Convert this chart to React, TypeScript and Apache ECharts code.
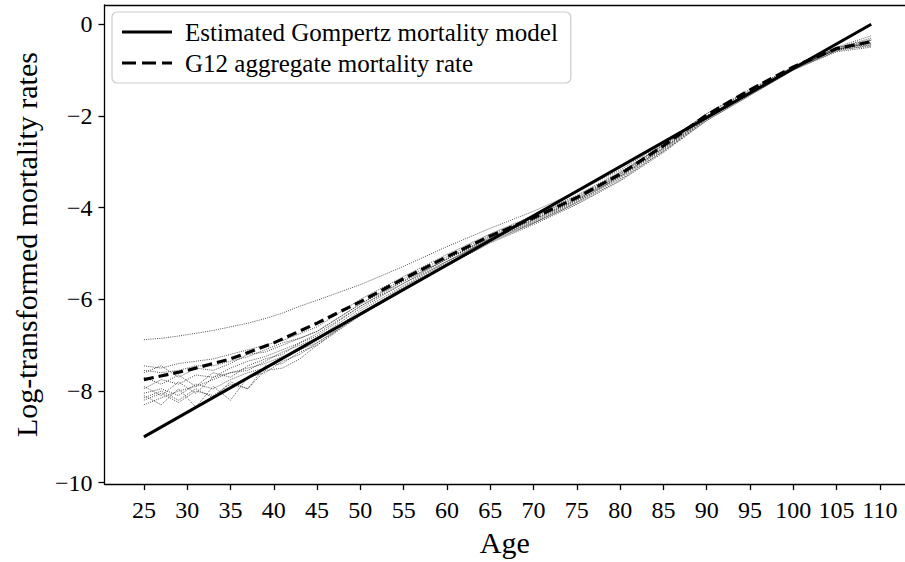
import React, { useEffect, useRef } from "react";
import * as echarts from "echarts";

const countryAges = [25, 27, 29, 31, 33, 35, 37, 39, 41, 43, 45, 50, 55, 60, 65, 70, 75, 80, 85, 90, 95, 100, 105, 109];
const country01 = [-6.88, -6.85, -6.8, -6.74, -6.68, -6.6, -6.52, -6.42, -6.3, -6.15, -6.02, -5.68, -5.28, -4.85, -4.45, -4.08, -3.65, -3.18, -2.6, -1.95, -1.42, -0.93, -0.55, -0.4];
const country02 = [-7.45, -7.5, -7.4, -7.35, -7.3, -7.2, -7.1, -7.0, -6.9, -6.75, -6.6, -6.0, -5.5, -5.02, -4.57, -4.17, -3.73, -3.22, -2.64, -2.0, -1.5, -0.98, -0.55, -0.35];
const country03 = [-7.55, -7.6, -7.55, -7.45, -7.45, -7.35, -7.25, -7.1, -6.95, -6.85, -6.7, -6.1, -5.6, -5.12, -4.67, -4.27, -3.83, -3.32, -2.72, -2.05, -1.5, -0.95, -0.52, -0.3];
const country04 = [-7.7, -7.85, -7.65, -7.9, -7.6, -7.7, -7.45, -7.3, -7.2, -6.95, -6.8, -6.15, -5.65, -5.17, -4.67, -4.27, -3.83, -3.27, -2.62, -1.95, -1.45, -0.92, -0.5, -0.45];
const country05 = [-8.05, -7.95, -8.1, -7.85, -7.95, -7.75, -7.6, -7.5, -7.3, -7.1, -6.9, -6.25, -5.7, -5.17, -4.69, -4.32, -3.88, -3.32, -2.7, -2.05, -1.5, -0.95, -0.55, -0.4];
const country06 = [-8.1, -8.3, -7.95, -8.35, -7.9, -8.2, -7.7, -7.6, -7.35, -7.2, -6.95, -6.3, -5.75, -5.22, -4.72, -4.34, -3.88, -3.37, -2.77, -2.1, -1.55, -1.0, -0.5, -0.25];
const country07 = [-8.2, -8.05, -8.25, -8.0, -8.1, -7.85, -7.95, -7.55, -7.5, -7.3, -7.0, -6.35, -5.8, -5.27, -4.77, -4.37, -3.93, -3.42, -2.8, -2.1, -1.55, -1.0, -0.6, -0.5];
const country08 = [-7.9, -8.1, -7.8, -8.05, -7.7, -7.6, -7.55, -7.35, -7.15, -7.0, -6.85, -6.2, -5.65, -5.12, -4.62, -4.22, -3.78, -3.27, -2.67, -2.0, -1.48, -0.97, -0.55, -0.42];
const country09 = [-8.3, -8.15, -8.0, -7.9, -7.75, -7.6, -7.5, -7.4, -7.25, -7.1, -6.95, -6.35, -5.8, -5.27, -4.75, -4.34, -3.91, -3.4, -2.77, -2.07, -1.52, -0.98, -0.58, -0.45];
const country10 = [-7.6, -7.45, -7.7, -7.5, -7.55, -7.4, -7.2, -7.15, -7.0, -6.85, -6.7, -6.1, -5.55, -5.07, -4.59, -4.2, -3.76, -3.24, -2.64, -2.0, -1.5, -0.98, -0.52, -0.33];
const country11 = [-7.95, -7.75, -7.85, -7.65, -7.7, -7.5, -7.35, -7.25, -7.1, -6.95, -6.75, -6.15, -5.6, -5.12, -4.65, -4.25, -3.81, -3.3, -2.7, -2.03, -1.5, -0.96, -0.55, -0.48];
const country12 = [-8.15, -8.0, -8.2, -7.95, -8.15, -7.8, -7.95, -7.45, -7.4, -7.15, -7.0, -6.3, -5.73, -5.19, -4.69, -4.3, -3.85, -3.34, -2.74, -2.07, -1.52, -0.99, -0.58, -0.35];
const countries = [country01, country02, country03, country04, country05, country06, country07, country08, country09, country10, country11, country12];

const aggregateAges = [25, 30, 35, 40, 45, 50, 55, 60, 65, 70, 75, 80, 85, 90, 95, 100, 105, 109];
const aggregateRates = [-7.75, -7.55, -7.3, -6.95, -6.52, -6.05, -5.55, -5.07, -4.62, -4.22, -3.78, -3.27, -2.65, -1.98, -1.43, -0.93, -0.53, -0.38];

const gompertzAges = [25, 109];
const gompertzRates = [-9.0, 0.0];

const xTicks = [25, 30, 35, 40, 45, 50, 55, 60, 65, 70, 75, 80, 85, 90, 95, 100, 105, 110];
const yTicks = [0, -2, -4, -6, -8, -10];

const legendNames = ["Estimated Gompertz mortality model", "G12 aggregate mortality rate"];

const FONT = "Liberation Serif";
const SOLID_ICON = "path://M0,0H50V3.2H0Z";
const DASH_ICON = "path://M0,0H14V3.2H0Z M20,0H34V3.2H20Z M40,0H50V3.2H40Z";

function pairs(xs: number[], ys: number[]) {
  return xs.map((x, i) => [x, ys[i]]);
}

export default function App() {
  const ref = useRef<HTMLDivElement>(null);
  useEffect(() => {
    if (!ref.current) return;
    const chart = echarts.init(ref.current, null, { renderer: "svg" });
    const countrySeries = countries.map((c, i) => ({
      name: "country" + (i + 1),
      type: "line",
      data: pairs(countryAges, c),
      symbol: "none",
      silent: true,
      lineStyle: { color: "#262626", width: 0.8, type: [1, 1.2] },
      z: 1,
    }));
    chart.setOption({
      animation: false,
      backgroundColor: "#ffffff",
      grid: { left: 104.5, top: 5, right: 0, bottom: 73.3 },
      legend: {
        data: [
          { name: legendNames[0], icon: SOLID_ICON },
          { name: legendNames[1], icon: DASH_ICON },
        ],
        orient: "vertical",
        left: 112,
        top: 12,
        itemWidth: 50,
        itemHeight: 3.2,
        itemGap: 3,
        symbolKeepAspect: false,
        padding: [6, 13, 6, 10],
        borderColor: "#cccccc",
        borderWidth: 1.2,
        borderRadius: 5,
        backgroundColor: "#ffffff",
        itemStyle: { color: "#000000", borderWidth: 0 },
        textStyle: { fontFamily: FONT, fontSize: 25, lineHeight: 28, color: "#000", padding: [0, 0, 0, 8] },
      },
      xAxis: [
        {
          type: "value",
          min: 20.45,
          max: 112.9,
          name: "Age",
          nameLocation: "middle",
          nameGap: 42,
          nameTextStyle: { fontFamily: FONT, fontSize: 30, color: "#000" },
          axisLine: { show: true, onZero: false, lineStyle: { color: "#000", width: 1.3 } },
          axisTick: { show: true, customValues: xTicks, length: 6, lineStyle: { color: "#000", width: 1.3 } },
          axisLabel: { customValues: xTicks, fontFamily: FONT, fontSize: 24, color: "#000", margin: 14 },
          splitLine: { show: false },
        },
        {
          type: "value",
          position: "top",
          min: 20.45,
          max: 112.9,
          axisLine: { show: true, onZero: false, lineStyle: { color: "#000", width: 1.3 } },
          axisTick: { show: false },
          axisLabel: { show: false },
          splitLine: { show: false },
        },
      ],
      yAxis: {
        type: "value",
        min: -10.03,
        max: 0.42,
        name: "Log-transformed mortality rates",
        nameLocation: "middle",
        nameGap: 63,
        nameTextStyle: { fontFamily: FONT, fontSize: 30, color: "#000" },
        axisLine: { show: true, onZero: false, lineStyle: { color: "#000", width: 1.3 } },
        axisTick: { show: true, customValues: yTicks, length: 6, lineStyle: { color: "#000", width: 1.3 } },
        axisLabel: {
          customValues: yTicks,
          fontFamily: FONT,
          fontSize: 24,
          color: "#000",
          margin: 12,
          formatter: (v: number) => (v < 0 ? "\u2212" + Math.abs(v) : String(v)),
        },
        splitLine: { show: false },
      },
      series: [
        ...countrySeries,
        {
          name: legendNames[0],
          type: "line",
          data: pairs(gompertzAges, gompertzRates),
          symbol: "none",
          lineStyle: { color: "#000000", width: 3 },
          itemStyle: { color: "#000000" },
          z: 3,
        },
        {
          name: legendNames[1],
          type: "line",
          data: pairs(aggregateAges, aggregateRates),
          symbol: "none",
          lineStyle: { color: "#000000", width: 3.2, type: [10, 5] },
          itemStyle: { color: "#000000" },
          z: 4,
        },
      ],
    });
    return () => chart.dispose();
  }, []);
  return <div ref={ref} style={{ position: "absolute", left: 0, top: 0, width: 905, height: 562 }} />;
}
